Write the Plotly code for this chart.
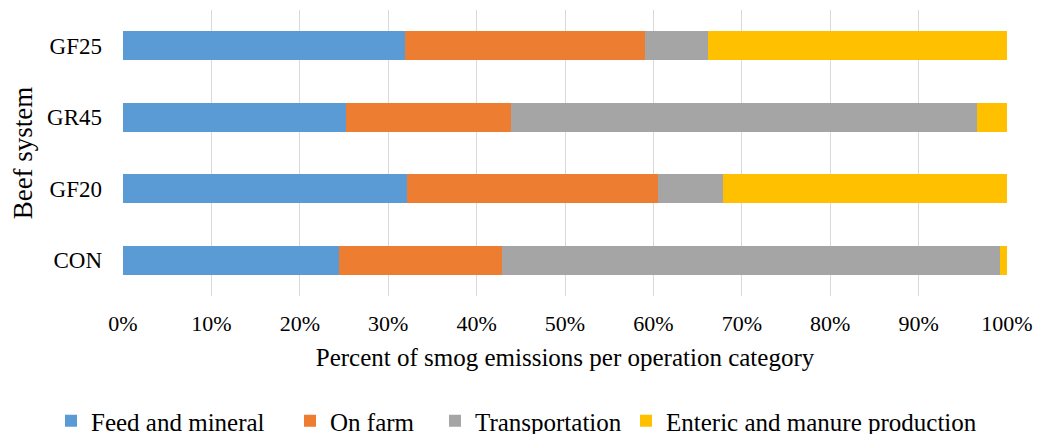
import plotly.graph_objects as go

systems = ["CON", "GF20", "GR45", "GF25"]
feed_mineral = [24.4, 32.1, 25.2, 31.9]
on_farm = [18.5, 28.4, 18.7, 27.2]
transportation = [56.3, 7.4, 52.7, 7.1]
enteric_manure = [0.8, 32.1, 3.4, 33.8]
x_tick_values = [0, 10, 20, 30, 40, 50, 60, 70, 80, 90, 100]
x_tick_labels = ["0%", "10%", "20%", "30%", "40%", "50%", "60%", "70%", "80%", "90%", "100%"]

series = [
    ("Feed and mineral", feed_mineral, "#5B9BD5"),
    ("On farm", on_farm, "#ED7D31"),
    ("Transportation", transportation, "#A5A5A5"),
    ("Enteric and manure production", enteric_manure, "#FFC000"),
]

FONT = "Liberation Serif"
W, H = 1038, 434

fig = go.Figure()
legend_ids = ["legend", "legend2", "legend3", "legend4"]
legend_px = [51, 290, 435, 626]
for (name, vals, color), lid in zip(series, legend_ids):
    fig.add_trace(go.Bar(
        y=systems, x=vals, name=name, orientation="h",
        marker=dict(color=color, line=dict(width=0)),
        legend=lid,
    ))

layout_legends = {}
for lid, px in zip(legend_ids, legend_px):
    layout_legends[lid] = dict(
        orientation="h", xref="container", yref="container",
        x=px / W, xanchor="left", y=1 - 421 / H, yanchor="middle",
        font=dict(family=FONT, size=25, color="#000000"),
        bgcolor="rgba(0,0,0,0)", borderwidth=0,
    )

fig.update_layout(
    width=W, height=H,
    margin=dict(l=123, r=31, t=10, b=138),
    paper_bgcolor="white", plot_bgcolor="white",
    barmode="stack", bargap=0.6,
    font=dict(family=FONT, color="#000000"),
    showlegend=True,
    **layout_legends,
)
fig.update_xaxes(
    range=[0, 100], tickmode="array", tickvals=x_tick_values, ticktext=x_tick_labels,
    showgrid=True, gridcolor="#D9D9D9", gridwidth=1, automargin=False,
    zeroline=False, showline=False, ticks="",
    tickfont=dict(family=FONT, size=22, color="#000000"),
    ticklabelstandoff=12,
    title=dict(text="Percent of smog emissions per operation category",
               font=dict(family=FONT, size=25, color="#000000"), standoff=13),
)
fig.update_yaxes(
    categoryorder="array", categoryarray=systems, automargin=False,
    showgrid=False, zeroline=False, showline=False, ticks="",
    tickfont=dict(family=FONT, size=23, color="#000000"),
    ticklabelstandoff=20,
    title=dict(text="Beef system", font=dict(family=FONT, size=27, color="#000000"), standoff=6),
)

fig.write_html("out.html")
